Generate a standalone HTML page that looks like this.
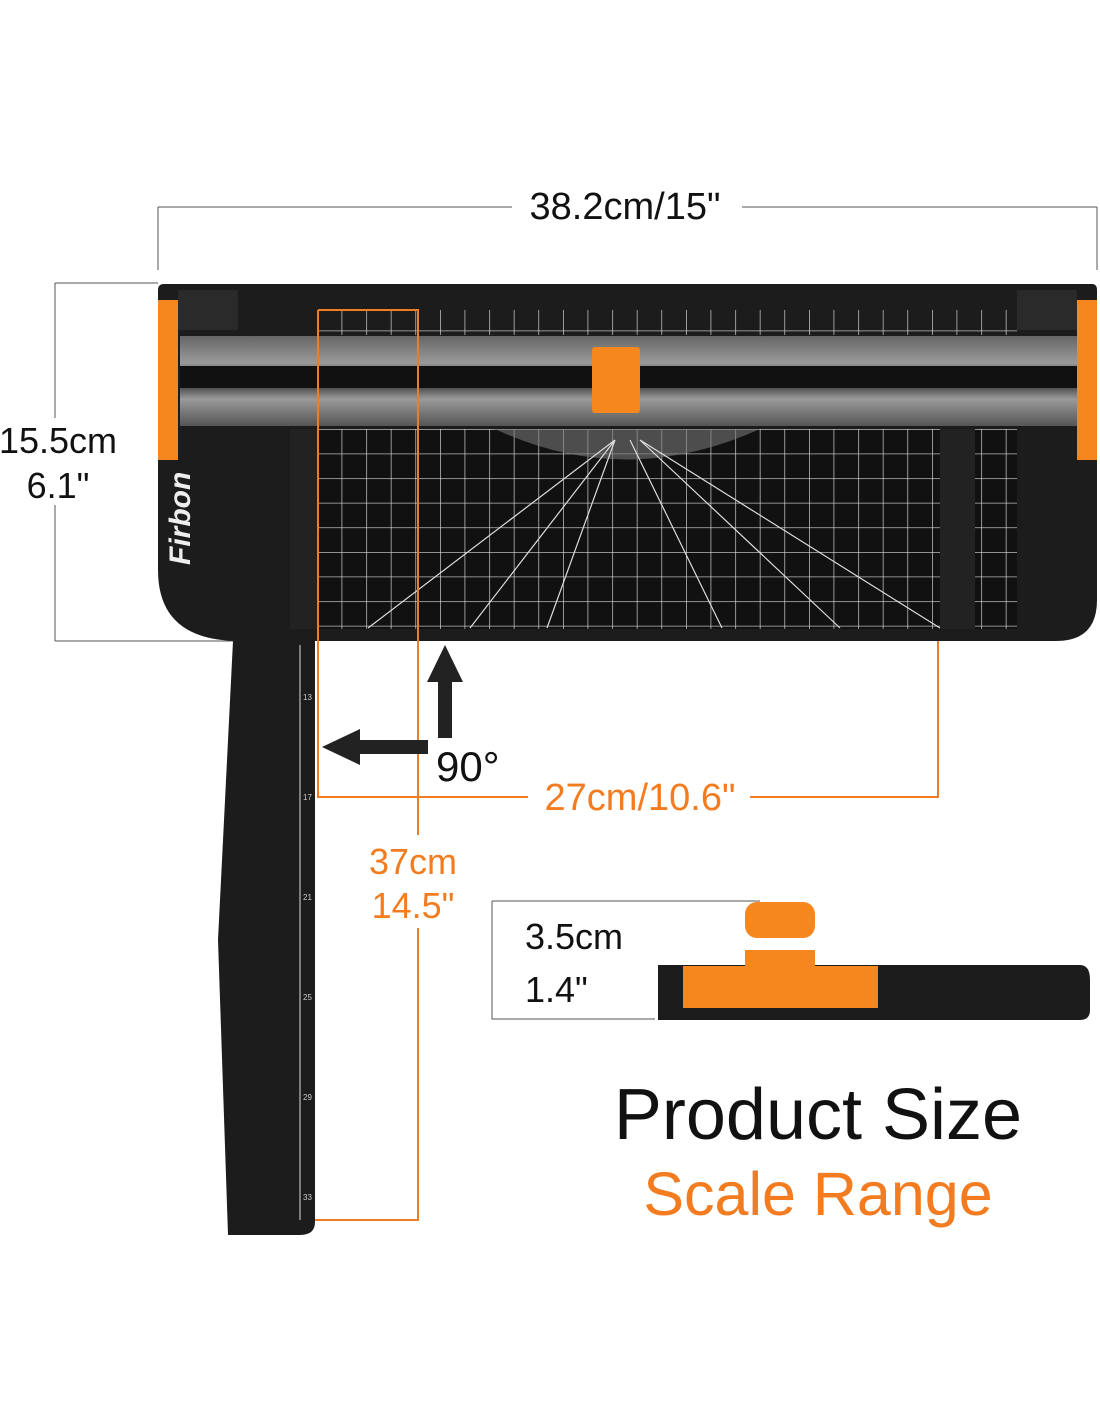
<!DOCTYPE html>
<html><head><meta charset="utf-8"><style>
body{margin:0;background:#fff;width:1100px;height:1422px;overflow:hidden}
svg text{font-family:"Liberation Sans",sans-serif}
</style></head><body>
<svg width="1100" height="1422" viewBox="0 0 1100 1422" xmlns="http://www.w3.org/2000/svg">
<defs>
<pattern id="g" x="317" y="429" width="24.6" height="24.6" patternUnits="userSpaceOnUse">
<path d="M0 0H24.6M0 0V24.6" stroke="#ddd" stroke-width="1.3" fill="none"/>
</pattern>
<linearGradient id="rail" x1="0" y1="0" x2="0" y2="1">
<stop offset="0" stop-color="#666"/><stop offset="0.3" stop-color="#9a9a9a"/><stop offset="0.5" stop-color="#222"/><stop offset="0.7" stop-color="#9a9a9a"/><stop offset="1" stop-color="#555"/>
</linearGradient>
</defs>
<g stroke="#555" stroke-width="1" fill="none">
<path d="M158 207H512M742 207H1097M158 207V270M1097 207V270"/>
<path d="M55 283H158M55 641H240M55 283V418M55 505V641"/>
<path d="M492 901H760M492 901V1019H655"/>
</g>
<text x="625" y="219" font-size="38" text-anchor="middle" fill="#111">38.2cm/15"</text>
<text x="58" y="453" font-size="36" text-anchor="middle" fill="#111">15.5cm</text>
<text x="58" y="498" font-size="36" text-anchor="middle" fill="#111">6.1"</text>
<path d="M158 290Q158 284 164 284H1092Q1097 284 1097 290V600Q1097 641 1056 641H240Q158 641 158 570Z" fill="#1c1c1c"/>
<rect x="180" y="336" width="897" height="90" fill="url(#rail)"/>
<rect x="180" y="366" width="897" height="22" fill="#111"/>
<rect x="158" y="300" width="20" height="160" fill="#f6871f"/>
<rect x="1077" y="300" width="20" height="160" fill="#f6871f"/>
<rect x="178" y="290" width="60" height="40" fill="#2a2a2a"/>
<rect x="1017" y="290" width="60" height="40" fill="#2a2a2a"/>
<rect x="317" y="310" width="700" height="25" fill="url(#g)" />
<rect x="317" y="429" width="700" height="200" fill="#111"/>
<rect x="317" y="429" width="700" height="200" fill="url(#g)"/>
<path d="M495 429Q625 490 760 429Z" fill="#777" opacity="0.6"/>
<g stroke="#ddd" stroke-width="1.2">
<path d="M615 440L368 628M615 440L470 628M615 440L547 628M630 440L722 628M640 440L840 628M640 440L940 628"/>
</g>
<rect x="290" y="429" width="27" height="200" fill="#222"/>
<rect x="940" y="429" width="35" height="200" fill="#222"/>
<rect x="592" y="347" width="48" height="66" rx="3" fill="#f6871f"/>
<text transform="translate(190 565) rotate(-90)" font-size="30" font-style="italic" font-weight="bold" fill="#eee" font-family="Liberation Serif,serif">Firbon</text>
<path d="M233 641H315V1222Q315 1235 300 1235H228L218 940Z" fill="#1c1c1c"/>
<g stroke="#ddd" stroke-width="1"><path d="M300 645V1220"/></g>
<g fill="#ccc" font-size="8">
<text x="303" y="700">13</text><text x="303" y="800">17</text><text x="303" y="900">21</text><text x="303" y="1000">25</text><text x="303" y="1100">29</text><text x="303" y="1200">33</text>
</g>
<g stroke="#f47c20" stroke-width="2" fill="none">
<path d="M318 310H418V835M418 928V1220H315M318 310V797H528M750 797H938V641"/>
</g>
<text x="640" y="810" font-size="38" text-anchor="middle" fill="#f47c20">27cm/10.6"</text>
<text x="413" y="874" font-size="36" text-anchor="middle" fill="#f47c20">37cm</text>
<text x="413" y="918" font-size="36" text-anchor="middle" fill="#f47c20">14.5"</text>
<path d="M445 645L463 682H452V738H438V682H427Z" fill="#222"/>
<path d="M322 747L360 729V740H428V754H360V765Z" fill="#222"/>
<text x="436" y="781" font-size="42" fill="#111">90°</text>
<text x="525" y="949" font-size="36" fill="#111">3.5cm</text>
<text x="525" y="1002" font-size="36" fill="#111">1.4"</text>
<path d="M658 965H1080Q1090 965 1090 980V1010Q1090 1020 1080 1020H658Z" fill="#1c1c1c"/>
<path d="M683 966H745V950H815V966H878V1008H683Z" fill="#f6871f"/>
<rect x="745" y="902" width="70" height="36" rx="12" fill="#f6871f"/>
<text x="818" y="1139" font-size="72" text-anchor="middle" fill="#111">Product Size</text>
<text x="818" y="1215" font-size="61" text-anchor="middle" fill="#f47c20">Scale Range</text>
</svg>
</body></html>
